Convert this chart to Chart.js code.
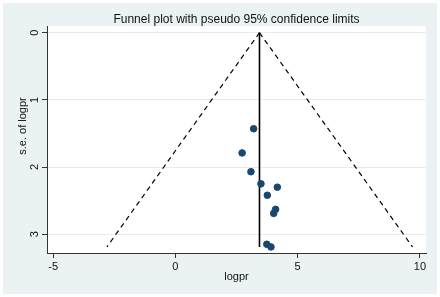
<!DOCTYPE html>
<html>
<head>
<meta charset="utf-8">
<script src="https://cdn.jsdelivr.net/npm/chart.js@4"></script>
<style>
  html, body { margin: 0; padding: 0; background: #fff; }
  #wrap { width: 440px; height: 297px; }
</style>
</head>
<body>
<div id="wrap"><canvas id="funnel" width="440" height="297"></canvas></div>
<script>
// ---- data ----
const studyLogpr = [3.20, 2.73, 3.09, 3.50, 4.17, 3.76, 4.10, 4.02, 3.74, 3.91];
const studySe    = [1.43, 1.79, 2.07, 2.25, 2.30, 2.42, 2.63, 2.69, 3.15, 3.19];
const pooledLogpr = 3.44;
const seMax = 3.19;
const lowerLimitX = -2.80;   // left dashed limit at seMax
const upperLimitX = 9.70;    // right dashed limit at seMax
const xTicks = [-5, 0, 5, 10];
const yTicks = [0, 1, 2, 3];

const titleText = 'Funnel plot with pseudo 95% confidence limits';
const yTitleText = 's.e. of logpr';
const navy = '#1a476f';

Chart.defaults.font.family = '"Liberation Sans", Arial, sans-serif';
Chart.defaults.font.size = 11;
Chart.defaults.color = '#111';

// background: stata-like graph region + white plot region, plus the titles
const backdrop = {
  id: 'backdrop',
  beforeDraw(chart) {
    const { ctx, chartArea: a } = chart;
    ctx.save();
    ctx.fillStyle = '#ffffff';
    ctx.fillRect(0, 0, chart.width, chart.height);
    ctx.fillStyle = '#eaf2f3';
    ctx.fillRect(3, 3, chart.width - 6, chart.height - 6);
    ctx.fillStyle = '#ffffff';
    ctx.fillRect(a.left, a.top, a.right - a.left, a.bottom - a.top);
    ctx.restore();
  },
  afterDraw(chart) {
    const { ctx, chartArea: a } = chart;
    ctx.save();
    ctx.fillStyle = '#111';
    ctx.textAlign = 'center';
    ctx.textBaseline = 'middle';
    ctx.font = '12px "Liberation Sans", Arial, sans-serif';
    ctx.fillText(titleText, (a.left + a.right) / 2, 19.5);
    // y axis title, reading bottom to top
    ctx.font = '11px "Liberation Sans", Arial, sans-serif';
    ctx.translate(23, 126);
    ctx.rotate(-Math.PI / 2);
    ctx.fillText(yTitleText, 0, 0);
    ctx.restore();
  }
};

const points = studyLogpr.map((x, i) => ({ x: x, y: studySe[i] }));

new Chart(document.getElementById('funnel').getContext('2d'), {
  type: 'scatter',
  data: {
    datasets: [
      {
        data: points,
        backgroundColor: navy,
        borderColor: navy,
        pointRadius: 3.3,
        pointHoverRadius: 3.3
      },
      {
        data: [{ x: pooledLogpr, y: 0 }, { x: pooledLogpr, y: seMax }],
        showLine: true,
        borderColor: '#000',
        borderWidth: 1.6,
        pointRadius: 0
      },
      {
        data: [{ x: pooledLogpr, y: 0 }, { x: lowerLimitX, y: seMax }],
        showLine: true,
        borderColor: '#000',
        borderWidth: 1.2,
        borderDash: [5, 4],
        pointRadius: 0
      },
      {
        data: [{ x: pooledLogpr, y: 0 }, { x: upperLimitX, y: seMax }],
        showLine: true,
        borderColor: '#000',
        borderWidth: 1.2,
        borderDash: [5, 4],
        pointRadius: 0
      }
    ]
  },
  options: {
    responsive: false,
    animation: false,
    events: [],
    layout: { padding: { top: 26, left: 0, right: 14, bottom: 0 } },
    plugins: {
      legend: { display: false },
      tooltip: { enabled: false },
      title: { display: false }
    },
    scales: {
      x: {
        type: 'linear',
        position: 'bottom',
        min: -5.25,
        max: 10.25,
        afterBuildTicks: s => { s.ticks = xTicks.map(v => ({ value: v })); },
        afterFit: s => { s.height = 44; },
        ticks: { padding: 2, maxRotation: 0, minRotation: 0 },
        grid: { drawOnChartArea: false, tickLength: 5, tickColor: '#333' },
        border: { color: '#333', width: 1 },
        title: { display: true, text: 'logpr', font: { size: 11 }, padding: { top: 0, bottom: 13.4 } }
      },
      y: {
        type: 'linear',
        position: 'left',
        reverse: true,
        min: -0.1,
        max: 3.28,
        afterBuildTicks: s => { s.ticks = yTicks.map(v => ({ value: v })); },
        afterFit: s => { s.width = 47; },
        ticks: { minRotation: 90, maxRotation: 90, crossAlign: 'center', padding: 4 },
        grid: { color: '#e3ecee', lineWidth: 1, tickLength: 5, tickColor: '#333' },
        border: { color: '#333', width: 1 },
        title: { display: false }
      }
    }
  },
  plugins: [backdrop]
});
</script>
</body>
</html>
